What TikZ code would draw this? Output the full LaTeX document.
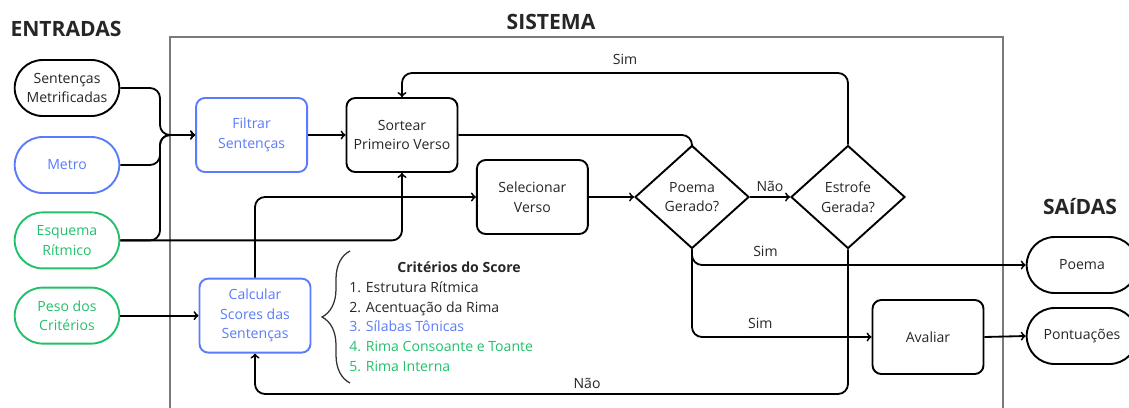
\documentclass[tikz,border=0pt]{standalone}
\usepackage{fontspec}
\setmainfont{Open Sans}
\usepackage{tikz}
\usetikzlibrary{shapes.geometric, shapes.misc, decorations.pathreplacing}
\usepackage{xcolor}

\definecolor{azul}{HTML}{5B7BFA}
\definecolor{verde}{HTML}{22C06C}
\definecolor{moldura}{HTML}{7A7A7A}

\tikzset{
	caixa/.style={rectangle, draw, line width=1.35pt, rounded corners=0.22cm, minimum width=2.775cm, minimum height=1.85cm, align=center},
	terminal/.style={rounded rectangle, draw, line width=1.35pt, minimum width=2.85cm, minimum height=1.4cm, align=center},
	decisao/.style={diamond, draw, line width=1.35pt, aspect=1.1, inner sep=0pt, minimum width=2.85cm, minimum height=2.575cm, align=center},
	fluxo/.style={->, line width=1.3pt, rounded corners=0.25cm},
	rotulo/.style={above, yshift=2pt},
	titulo/.style={font=\fontsize{15}{18}\selectfont\bfseries}
}

\begin{document}
\begin{tikzpicture}[font=\fontsize{10}{14}\selectfont, text=black!85]
	\useasboundingbox (0,0) rectangle (28.225,-10.175);
	% moldura do sistema
	\draw[moldura, line width=0.8pt] (4.25,-0.925) rectangle (25.075,-10.6);
	\node[titulo] at (1.65,-0.72) (entradas) {ENTRADAS};
	\node[titulo] at (13.775,-0.55) (sistema) {SISTEMA};
	\node[titulo] at (27.0,-5.175) (saidas) {SAíDAS};

	\node[terminal] at (1.675,-2.2) (sentencas) {Sentenças\\Metrificadas};
	\node[terminal, draw=azul, text=azul] at (1.675,-4.125) (metro) {Metro};
	\node[terminal, draw=verde, text=verde] at (1.675,-6.01) (esquema) {Esquema\\Rítmico};
	\node[terminal, draw=verde, text=verde] at (1.675,-7.89) (peso) {Peso dos\\Critérios};

	\node[caixa, draw=azul, text=azul] at (6.29,-3.375) (filtrar) {Filtrar\\Sentenças};
	\node[caixa] at (10.05,-3.375) (sortear) {Sortear\\Primeiro Verso};
	\node[caixa] at (13.31,-4.925) (selecionar) {Selecionar\\Verso};
	\node[decisao] at (17.3,-4.925) (poemaG) {Poema\\Gerado?};
	\node[decisao] at (21.2,-4.925) (estrofeG) {Estrofe\\Gerada?};
	\node[caixa, draw=azul, text=azul] at (6.375,-7.89) (calcular) {Calcular\\Scores das\\Sentenças};
	\node[caixa] at (23.2,-8.425) (avaliar) {Avaliar};

	\node[terminal, minimum width=3cm] at (27.05,-6.625) (poema) {Poema};
	\node[terminal, minimum width=3cm] at (27.05,-8.4) (pont) {Pontuações};

	% criterios
	\draw[decorate, decoration={brace, amplitude=0.7cm}, line width=0.9pt, black!80] (8.75,-9.575) -- (8.75,-6.275);
	\node[font=\fontsize{10}{14}\selectfont\bfseries] at (11.475,-6.675) (criterios) {Critérios do Score};
	\node[anchor=west, align=left, inner sep=0pt] at (8.725,-8.16) (itens) {1. Estrutura Rítmica\\2. Acentuação da Rima\\\textcolor{azul}{3. Sílabas Tônicas}\\\textcolor{verde}{4. Rima Consoante e Toante}\\\textcolor{verde}{5. Rima Interna}};

	% conexoes
	\coordinate (juncao) at (4.0,-3.375);
	\draw[fluxo] (sentencas.east) -| (juncao) -- (filtrar.west);
	\draw[fluxo] (metro.east) -| (juncao) -- (filtrar.west);
	\draw[fluxo] (esquema.east) -| (juncao) -- (filtrar.west);
	\draw[fluxo] (esquema.east) -| (sortear.south);
	\draw[fluxo] (filtrar.east) -- (sortear.west);
	\draw[fluxo] (sortear.east) -| (poemaG.north);
	\draw[fluxo] (selecionar.east) -- (poemaG.west);
	\draw[fluxo] (poemaG.east) -- node[above] (nao1) {Não} (estrofeG.west);
	\coordinate (topo) at (0,-1.825);
	\draw[fluxo] (estrofeG.north) |- node[rotulo, pos=0.75] (sim1) {Sim} (sortear.north |- topo) -- (sortear.north);
	\draw[fluxo] (poemaG.south) |- node[rotulo, pos=0.61] (sim2) {Sim} (poema.west);
	\draw[fluxo] (poemaG.south) |- node[rotulo, pos=0.69] (sim3) {Sim} (avaliar.west);
	\coordinate (base) at (0,-9.85);
	\draw[fluxo] (estrofeG.south) |- node[above, pos=0.72] (nao2) {Não} (calcular.south |- base) -- (calcular.south);
	\draw[fluxo] (calcular.north) |- (selecionar.west);
	\draw[fluxo] (peso.east) -- (calcular.west);
	\draw[fluxo] (avaliar.east) -- (pont.west);
\end{tikzpicture}
\end{document}
